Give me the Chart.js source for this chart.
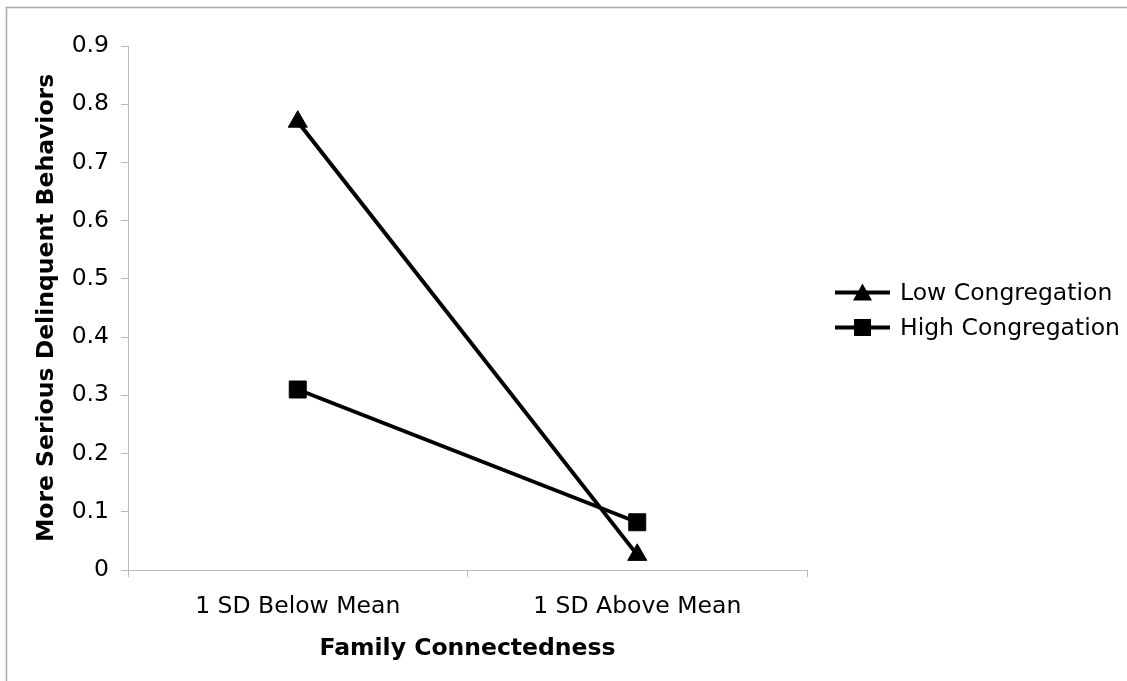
<!DOCTYPE html>
<html>
<head>
<meta charset="utf-8">
<script src="https://cdn.jsdelivr.net/npm/chart.js@4"></script>
<style>
  body { margin: 0; background: #fff; }
  #wrap { width: 1127px; height: 681px; }
</style>
</head>
<body>
<div id="wrap"><canvas id="lineChart" width="1127" height="681"></canvas></div>
<script>
var categories = ["1 SD Below Mean", "1 SD Above Mean"];
var lowCongregation = [0.77, 0.026];
var highCongregation = [0.31, 0.082];
var yTicks = [0, 0.1, 0.2, 0.3, 0.4, 0.5, 0.6, 0.7, 0.8, 0.9];

var FONT = "'DejaVu Sans', Verdana, sans-serif";
var FS = 23.5;

// legend sample: line with marker in the middle
function drawIcon(g, shape, x, y) {
    g.fillStyle = '#000';
    g.fillRect(x, y - 2, 55, 4);
    if (shape === 'triangle') {
        g.beginPath();
        g.moveTo(x + 27.5, y - 9);
        g.lineTo(x + 37, y + 8);
        g.lineTo(x + 18, y + 8);
        g.closePath();
        g.fill();
    } else {
        g.fillRect(x + 19, y - 8.5, 17, 17);
    }
}

var frame = {
    id: 'frame',
    beforeDraw: function (chart) {
        var ctx = chart.ctx;
        ctx.save();
        ctx.fillStyle = '#fff';
        ctx.fillRect(0, 0, chart.width, chart.height);
        ctx.strokeStyle = '#aaa';
        ctx.lineWidth = 1.5;
        ctx.beginPath();
        ctx.moveTo(6.5, chart.height);
        ctx.lineTo(6.5, 7.5);
        ctx.lineTo(chart.width, 7.5);
        ctx.stroke();
        ctx.restore();
    }
};

// legend to the right of the plot area
var sideLegend = {
    id: 'sideLegend',
    afterDraw: function (chart) {
        var ctx = chart.ctx;
        var area = chart.chartArea;
        var x = area.right + 28;
        var mid = (area.top + area.bottom) / 2 + 2;
        var rows = [mid - 17.5, mid + 17.5];
        ctx.save();
        ctx.font = FS + "px " + FONT;
        ctx.fillStyle = '#000';
        ctx.textBaseline = 'middle';
        chart.data.datasets.forEach(function (ds, i) {
            drawIcon(ctx, ds.pointStyle, x, rows[i]);
            ctx.fillStyle = '#000';
            ctx.fillText(ds.label, x + 65, rows[i] + 1);
        });
        ctx.restore();
    }
};

var ctxL = document.getElementById("lineChart").getContext('2d');
var myLineChart = new Chart(ctxL, {
    type: 'line',
    data: {
        labels: categories,
        datasets: [{
                label: "Low Congregation",
                data: lowCongregation,
                borderColor: '#000',
                backgroundColor: '#000',
                borderWidth: 4,
                pointStyle: 'triangle',
                pointRadius: 11,
                pointBorderWidth: 1,
                tension: 0
            }, {
                label: "High Congregation",
                data: highCongregation,
                borderColor: '#000',
                backgroundColor: '#000',
                borderWidth: 4,
                pointStyle: 'rect',
                pointRadius: 12,
                pointBorderWidth: 1,
                tension: 0
            }
        ]
    },
    plugins: [frame, sideLegend],
    options: {
        responsive: false,
        animation: false,
        devicePixelRatio: 1,
        layout: { padding: { top: 46, right: 320, left: 0, bottom: 0 } },
        plugins: {
            tooltip: { enabled: false },
            legend: { display: false }
        },
        scales: {
            x: {
                offset: true,
                grid: { offset: true, drawOnChartArea: false, color: '#bbb', tickLength: 7 },
                border: { color: '#bbb' },
                ticks: { color: '#000', font: { family: FONT, size: FS }, padding: 16 },
                title: {
                    display: true,
                    text: 'Family Connectedness',
                    color: '#000',
                    font: { family: FONT, size: FS, weight: 'bold' },
                    padding: { top: 10, bottom: 18 }
                },
                afterFit: function (s) { s.height = 111; }
            },
            y: {
                min: 0,
                max: 0.9,
                afterBuildTicks: function (s) { s.ticks = yTicks.map(function (v) { return { value: v }; }); },
                grid: { drawOnChartArea: false, color: '#bbb', tickLength: 7 },
                border: { color: '#bbb' },
                ticks: { color: '#000', font: { family: FONT, size: FS }, padding: 12 },
                title: {
                    display: true,
                    text: 'More Serious Delinquent Behaviors',
                    color: '#000',
                    font: { family: FONT, size: FS, weight: 'bold' },
                    padding: { top: 33, bottom: 0 }
                },
                afterFit: function (s) { s.width = 128; }
            }
        }
    }
});
</script>
</body>
</html>
